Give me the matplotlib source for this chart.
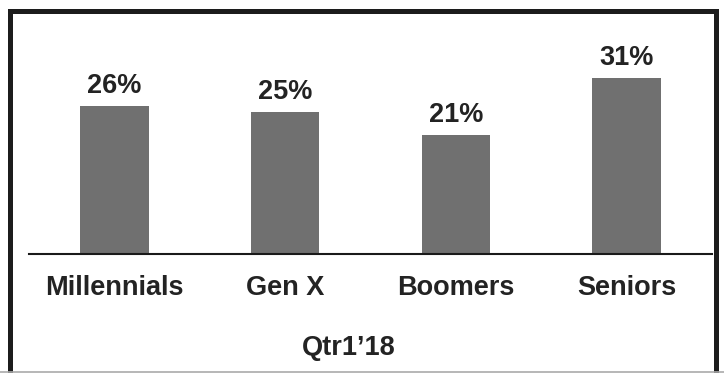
import matplotlib
matplotlib.use("Agg")
import matplotlib.pyplot as plt
from matplotlib.patches import Rectangle
from matplotlib.lines import Line2D

categories = ["Millennials", "Gen X", "Boomers", "Seniors"]
shares = [26, 25, 21, 31]
value_labels = ["26%", "25%", "21%", "31%"]
period_label = "Qtr1\u201918"

W, H = 724, 373
fig = plt.figure(figsize=(W / 100, H / 100), dpi=100)
fig.patch.set_facecolor("white")

plt.rcParams["font.family"] = ["Liberation Sans", "DejaVu Sans"]
text_color = "#232323"
bar_color = "#707070"

ax = fig.add_axes([29 / W, (H - 254) / H, 683 / W, 234 / H])
ax.bar(range(len(categories)), shares, width=0.40, color=bar_color)
ax.set_xlim(-0.5, len(categories) - 0.5)
ax.set_ylim(0, 41.2)

for i, (v, lab) in enumerate(zip(shares, value_labels)):
    ax.annotate(lab, (i, v), xytext=(0, 9.5), textcoords="offset points",
                ha="center", va="baseline", fontsize=19.5, fontweight="bold",
                color=text_color)

ax.set_xticks(range(len(categories)))
ax.set_xticklabels(categories, fontsize=19.5, fontweight="bold", color=text_color)
ax.tick_params(axis="x", length=0, pad=15)
ax.set_yticks([])
for side in ["left", "right", "top"]:
    ax.spines[side].set_visible(False)
ax.spines["bottom"].set_color("#1a1a1a")
ax.spines["bottom"].set_linewidth(1.5)
ax.set_facecolor("none")

fig.text(349 / W, (H - 355) / H, period_label, ha="center", va="baseline",
         fontsize=19.5, fontweight="bold", color=text_color)

# frame around the chart (open at the bottom edge of the image)
lw_px = 5
frame = Rectangle((9.5 / W, -0.2), (715.5 - 9.5) / W, (H - 10.5) / H + 0.2,
                  transform=fig.transFigure, fill=False, edgecolor="#1c1c1c",
                  linewidth=lw_px * 0.72, clip_on=False)
fig.add_artist(frame)
fig.add_artist(Line2D([0, 1], [0.8 / H, 0.8 / H], transform=fig.transFigure,
                      color="#aaaaaa", linewidth=1.2))

fig.savefig("out.png", dpi=100, facecolor="white")
